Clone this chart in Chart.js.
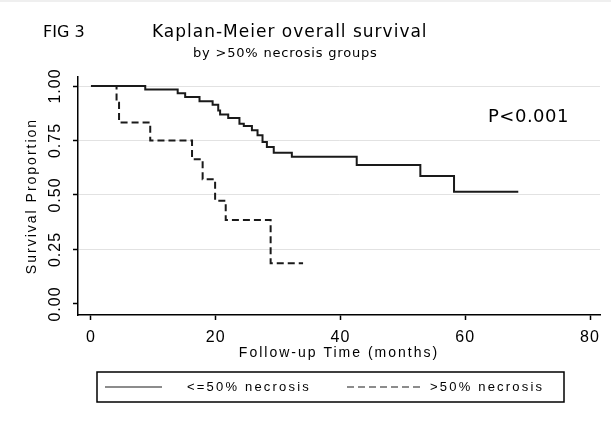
<!DOCTYPE html>
<html>
<head>
<meta charset="utf-8">
<title>Kaplan-Meier overall survival</title>
<script src="https://cdn.jsdelivr.net/npm/chart.js@4.4.1/dist/chart.umd.min.js"></script>
<style>
  html, body { margin: 0; padding: 0; background: #fff; }
  canvas { display: block; }
</style>
</head>
<body>
<canvas id="kmChart" width="611" height="423"></canvas>
<script>
// survival curves: time (months) of each step, survival after the step
var lowTimes  = [0, 8.7, 13.9, 15.1, 17.4, 19.5, 20.4, 20.7, 22.0, 23.8, 24.5, 25.8, 26.7, 27.5, 28.2, 29.3, 32.2, 42.6, 52.8, 58.2, 68.5];
var lowSurv   = [1.0, 0.984, 0.967, 0.950, 0.930, 0.914, 0.888, 0.869, 0.853, 0.827, 0.817, 0.797, 0.774, 0.743, 0.720, 0.694, 0.675, 0.638, 0.587, 0.515, 0.515];
var highTimes = [0, 4.1, 4.5, 9.5, 16.2, 17.9, 19.9, 21.6, 28.8, 34.0];
var highSurv  = [1.0, 0.923, 0.833, 0.750, 0.664, 0.572, 0.474, 0.385, 0.187, 0.187];

var groupLabels = ['<=50% necrosis', '>50% necrosis'];
var xTicks = [0, 20, 40, 60, 80];
var yTicks = [0, 0.25, 0.5, 0.75, 1];

var figLabel = 'FIG 3';
var mainTitle = 'Kaplan-Meier overall survival';
var subTitle = 'by >50% necrosis groups';
var pValueText = 'P<0.001';

function kmPoints(times, surv) {
  return times.map(function (t, i) { return {x: t, y: surv[i]}; });
}

// extra bits stata draws: headings, p value, boxed legend
var figText = {
  id: 'figText',
  beforeDraw: function (chart) {
    var ctx = chart.ctx;
    ctx.save();
    ctx.fillStyle = '#fff';
    ctx.fillRect(0, 0, chart.width, chart.height);
    ctx.fillStyle = '#efefef';
    ctx.fillRect(0, 0, chart.width, 2);
    ctx.restore();
    // the stata font is loosely spaced
    ctx.letterSpacing = '1px';
    ['x', 'y'].forEach(function (id) {
      var s = chart.scales[id];
      if (s && !s._spaced) {
        var orig = s.drawTitle;
        s.drawTitle = function () {
          this.ctx.save();
          this.ctx.letterSpacing = '2px';
          orig.call(this);
          this.ctx.restore();
        };
        s._spaced = true;
      }
    });
  },
  afterDraw: function (chart) {
    var ctx = chart.ctx;
    ctx.save();
    ctx.fillStyle = '#000';
    ctx.textBaseline = 'alphabetic';
    ctx.textAlign = 'left';

    ctx.letterSpacing = '0px';
    ctx.font = '16px "DejaVu Sans"';
    ctx.fillText(figLabel, 43, 37);

    ctx.letterSpacing = '1px';
    ctx.font = '17px "DejaVu Sans"';
    ctx.fillText(mainTitle, 152, 37);

    ctx.letterSpacing = '0.8px';
    ctx.font = '13px "DejaVu Sans"';
    ctx.fillText(subTitle, 193, 56.5);

    ctx.letterSpacing = '0.5px';
    ctx.font = '18px "DejaVu Sans"';
    ctx.fillText(pValueText, 488, 122);

    // legend box
    ctx.letterSpacing = '0px';
    ctx.strokeStyle = '#000';
    ctx.lineWidth = 1.5;
    ctx.strokeRect(97, 372, 467, 30);

    var samples = [[105, 162, 187], [347, 423, 430]];
    ctx.font = '13px "Liberation Sans"';
    ctx.textBaseline = 'middle';
    chart.data.datasets.forEach(function (ds, i) {
      var s = samples[i];
      ctx.beginPath();
      ctx.setLineDash(ds.borderDash || []);
      ctx.lineWidth = 1.2;
      ctx.strokeStyle = ds.borderColor;
      ctx.moveTo(s[0], 387);
      ctx.lineTo(s[1], 387);
      ctx.stroke();
      ctx.setLineDash([]);
      ctx.letterSpacing = '2.2px';
      ctx.fillText(ds.label, s[2], 387);
    });
    ctx.restore();
  }
};

var ctx = document.getElementById('kmChart');
var kmChart = new Chart(ctx, {
  type: 'line',
  data: {
    datasets: [
      {
        label: groupLabels[0],
        data: kmPoints(lowTimes, lowSurv),
        stepped: 'before',
        borderColor: '#1a1a1a',
        borderWidth: 2,
        pointRadius: 0,
        fill: false
      },
      {
        label: groupLabels[1],
        data: kmPoints(highTimes, highSurv),
        stepped: 'before',
        borderColor: '#1a1a1a',
        borderWidth: 2,
        borderDash: [7, 4],
        pointRadius: 0,
        fill: false
      }
    ]
  },
  options: {
    responsive: false,
    animation: false,
    layout: { padding: { left: 0, top: 77, right: 11, bottom: 58 } },
    plugins: {
      legend: { display: false },
      tooltip: { enabled: false }
    },
    scales: {
      x: {
        type: 'linear',
        min: -2.08,
        max: 81.6,
        afterBuildTicks: function (s) { s.ticks = xTicks.map(function (v) { return {value: v}; }); },
        afterFit: function (s) { s.height = 50; },
        grid: { drawOnChartArea: false, tickLength: 5, tickColor: '#000', tickWidth: 1.5 },
        border: { display: true, color: '#000', width: 1.5 },
        ticks: {
          color: '#000',
          padding: 8,
          maxRotation: 0,
          font: { family: 'Liberation Sans', size: 16 },
          callback: function (v) { return String(v); }
        },
        title: {
          display: true,
          text: 'Follow-up Time (months)',
          color: '#000',
          font: { family: 'Liberation Sans', size: 14 },
          padding: { top: 0, bottom: 3 }
        }
      },
      y: {
        type: 'linear',
        min: -0.0505,
        max: 1.0413,
        afterBuildTicks: function (s) { s.ticks = yTicks.map(function (v) { return {value: v}; }); },
        afterFit: function (s) { s.width = 78; },
        grid: {
          color: function (c) { return c.tick && c.tick.value === 0 ? 'rgba(0,0,0,0)' : '#e2e2e2'; },
          lineWidth: 1,
          tickLength: 5,
          tickColor: '#000',
          tickWidth: 1.5
        },
        border: { display: true, color: '#000', width: 1.5 },
        ticks: {
          color: '#000',
          padding: 2,
          minRotation: 90,
          maxRotation: 90,
          crossAlign: 'center',
          font: { family: 'Liberation Sans', size: 16 },
          callback: function (v) { return Number(v).toFixed(2); }
        },
        title: {
          display: true,
          text: 'Survival Proportion',
          color: '#000',
          font: { family: 'Liberation Sans', size: 14 },
          padding: { top: 24, bottom: 0 }
        }
      }
    }
  },
  plugins: [figText]
});
</script>
</body>
</html>
